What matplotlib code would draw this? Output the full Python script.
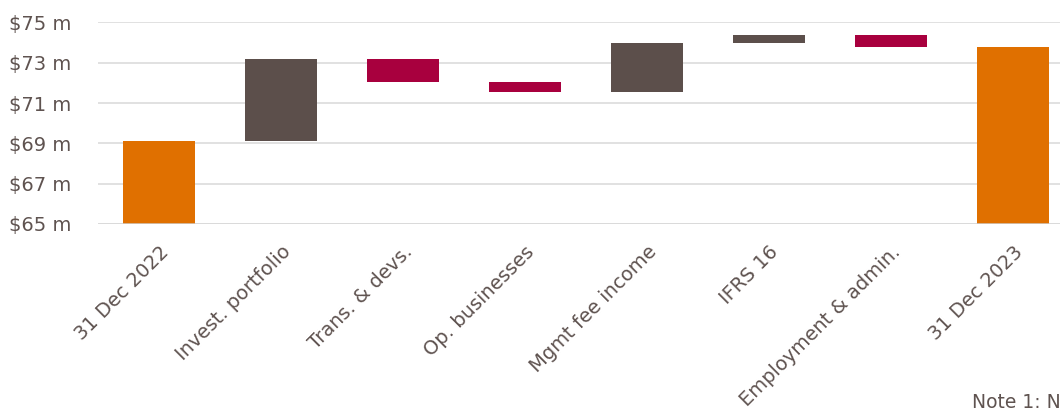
import matplotlib
matplotlib.use("Agg")
import matplotlib.pyplot as plt

categories = ["31 Dec 2022", "Invest. portfolio", "Trans. & devs.", "Op. businesses",
              "Mgmt fee income", "IFRS 16", "Employment & admin.", "31 Dec 2023"]
start_value = 69.11
deltas = [4.07, -1.15, -0.50, 2.47, 0.40, -0.60]
end_value = 73.80
ytick_values = [65, 67, 69, 71, 73, 75]
ytick_labels = ["$65 m", "$67 m", "$69 m", "$71 m", "$73 m", "$75 m"]
note_text = "Note 1: N"

ORANGE = "#E07000"
BROWN = "#5C4F4B"
CRIMSON = "#A8003E"
TEXT = "#5F5350"

plt.rcParams['font.family'] = ['DejaVu Sans']

W, H = 1060, 411
fig = plt.figure(figsize=(W / 100, H / 100), dpi=100)
ax_left = 98 / W
ax_width = (8 * 122) / W
ax_bottom = (H - 224) / H
ax_height = (224 - 22.5) / H
ax = fig.add_axes([ax_left, ax_bottom, ax_width, ax_height])

base = 65
bottoms, heights, colors = [], [], []
bottoms.append(base); heights.append(start_value - base); colors.append(ORANGE)
level = start_value
for d in deltas:
    if d >= 0:
        bottoms.append(level); heights.append(d); colors.append(BROWN)
    else:
        bottoms.append(level + d); heights.append(-d); colors.append(CRIMSON)
    level += d
bottoms.append(base); heights.append(end_value - base); colors.append(ORANGE)

x = list(range(len(categories)))
ax.bar(x, heights, bottom=bottoms, width=0.59, color=colors, zorder=3)

ax.set_xlim(-0.5, len(categories) - 0.5)
ax.set_ylim(65, 75)
ax.set_yticks(ytick_values)
ax.set_yticklabels(ytick_labels)
for v in ytick_values:
    if v == 65:
        continue
    ax.axhline(v, color="#DEDEDE", lw=1.3, zorder=1)
ax.axhline(65, color="#CFCFCF", lw=1.8, zorder=4)

for s in ax.spines.values():
    s.set_visible(False)
ax.tick_params(axis='y', length=0, pad=19, labelsize=14, labelcolor=TEXT)
ax.tick_params(axis='x', length=0, pad=13, labelsize=14, labelcolor=TEXT)
ax.set_xticks(x)
ax.set_xticklabels(categories, rotation=45, ha='right', rotation_mode='anchor')
for lbl in ax.get_yticklabels():
    lbl.set_ha('right')

fig.text(972 / W, 1 - 402 / H, note_text, fontsize=13.5, color=TEXT, va='center', ha='left')

fig.savefig("out.png", dpi=100)
